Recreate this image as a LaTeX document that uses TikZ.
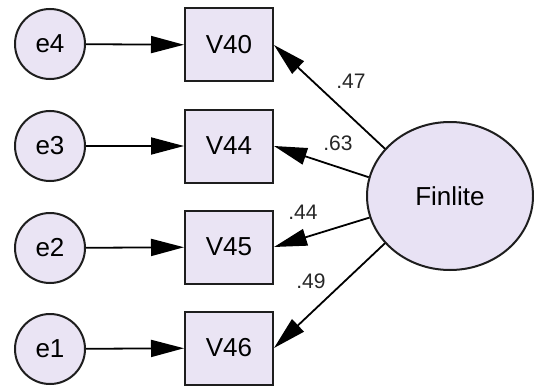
\documentclass[tikz,border=0pt]{standalone}
\usepackage{fontspec}
\setmainfont{Liberation Sans}
\usetikzlibrary{arrows.meta,shapes.geometric}
\definecolor{nodefill}{RGB}{234,228,244}
\definecolor{latentfill}{RGB}{232,226,244}
\definecolor{edgecol}{RGB}{30,30,30}
\tikzset{
  errnode/.style={circle,draw=edgecol,line width=2pt,fill=nodefill,minimum size=70pt,inner sep=0pt,font=\fontsize{26}{28}\selectfont},
  obsnode/.style={rectangle,draw=edgecol,line width=2pt,fill=nodefill,minimum width=88pt,minimum height=73pt,inner sep=0pt,font=\fontsize{26}{28}\selectfont},
  latnode/.style={ellipse,draw=edgecol,line width=2pt,fill=latentfill,minimum width=166pt,minimum height=148pt,inner sep=0pt,font=\fontsize{26}{28}\selectfont},
  path/.style={draw=black,line width=1.8pt,-{Triangle[length=33pt,width=17pt]}},
  loadlbl/.style={font=\fontsize{21}{23}\selectfont,text=black!85}
}
\begin{document}
\begin{tikzpicture}[x=1pt,y=-1pt]
\useasboundingbox (0,0) rectangle (534,385);
% error terms
\node[errnode] (e4) at (50,44) {e4};
\node[errnode] (e3) at (50,146) {e3};
\node[errnode] (e2) at (50,248) {e2};
\node[errnode] (e1) at (50,349) {e1};
% observed variables
\node[obsnode] (v40) at (229,45) {V40};
\node[obsnode] (v44) at (229,146) {V44};
\node[obsnode] (v45) at (229,247) {V45};
\node[obsnode] (v46) at (229,348) {V46};
% latent factor
\node[latnode] (f) at (450,196) {Finlite};
% error paths
\draw[path] (e4) -- (v40);
\draw[path] (e3) -- (v44);
\draw[path] (e2) -- (v45);
\draw[path] (e1) -- (v46);
% factor loadings
\draw[path] (f.144) -- (v40.east);
\draw[path] (f.167) -- (v44.east);
\draw[path] (f.195) -- (v45.east);
\draw[path] (f.216) -- (v46.east);
\node[loadlbl] (l47) at (351,81) {.47};
\node[loadlbl] (l63) at (338,143) {.63};
\node[loadlbl] (l44) at (303,212) {.44};
\node[loadlbl] (l49) at (311,281) {.49};
\end{tikzpicture}
\end{document}
